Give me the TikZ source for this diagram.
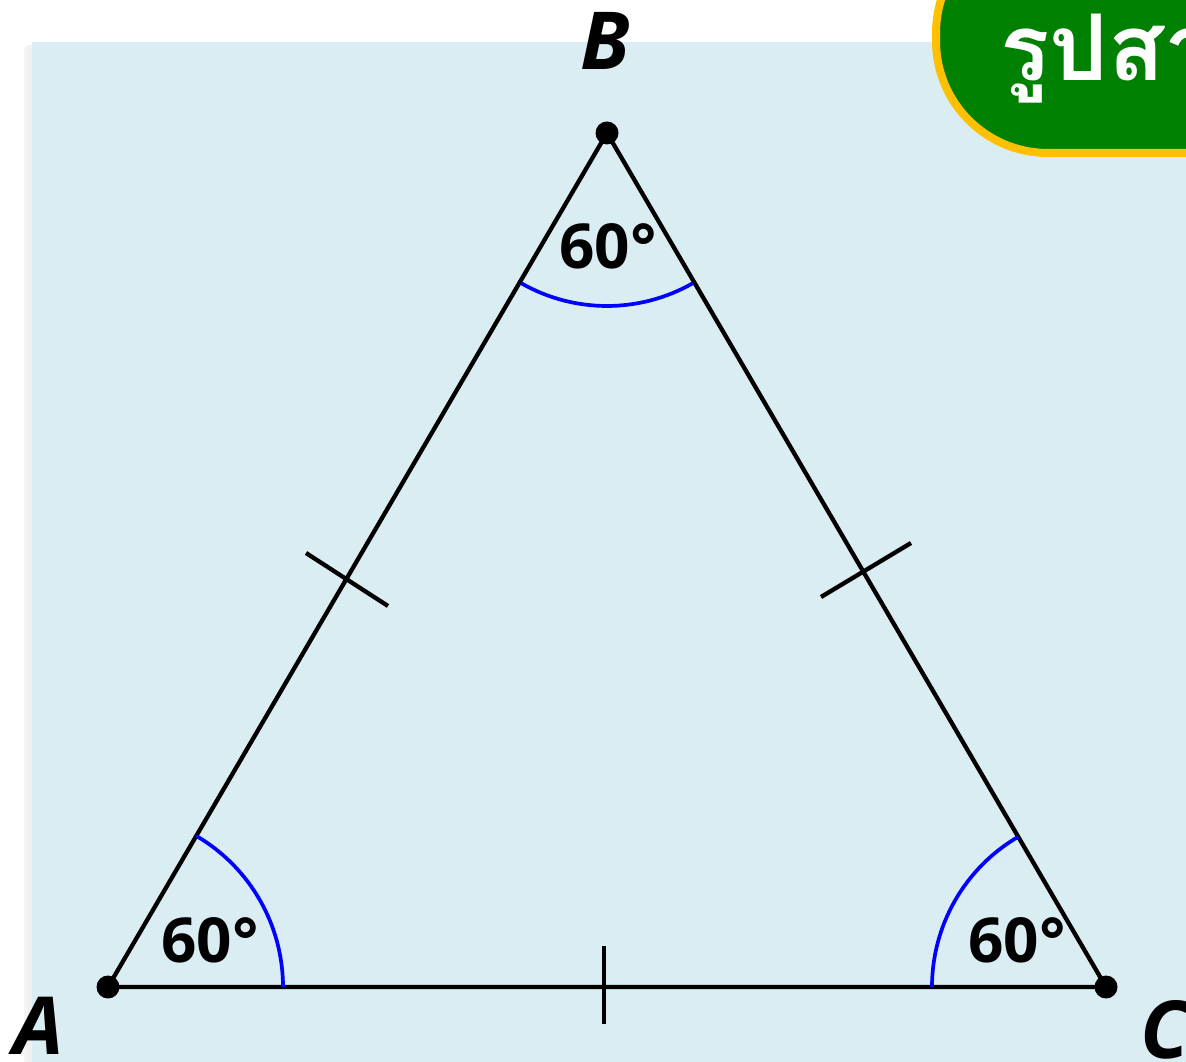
\documentclass[tikz,border=0pt]{standalone}
\usepackage{fontspec}
\setmainfont{Open Sans}
\newfontfamily\thaifont[Script=Thai]{Loma}
\definecolor{bgblue}{HTML}{DAEDF3}
\definecolor{badgegreen}{HTML}{008000}
\definecolor{badgeorange}{HTML}{FFC000}
\tikzset{
  dot/.style={circle,fill=black,inner sep=0pt,minimum size=23pt},
  side/.style={line width=4.3pt,black},
  anglearc/.style={line width=3.7pt,blue},
  tick/.style={line width=4.3pt,black},
  anglelabel/.style={font=\fontsize{62}{70}\selectfont\bfseries,inner sep=0pt},
  vlabel/.style={font=\fontsize{80}{90}\selectfont\bfseries\itshape,inner sep=0pt}
}
\begin{document}
\begin{tikzpicture}[x=1pt,y=1pt]
\useasboundingbox (0,0) rectangle (1186,1061);
\clip (0,0) rectangle (1186,1061);
% background panel with faint shadow
\fill[black,opacity=0.06] (27,-10) rectangle (32,1016);
\fill[black,opacity=0.04] (24,-10) rectangle (27,1014);
\fill[bgblue] (32,-10) rectangle (1200,1019);
% badge
\draw[line width=8pt,draw=badgeorange,fill=badgegreen,rounded corners=112pt]
  (936,908) rectangle (1400,1140);
\node[anchor=base west,inner sep=0pt,text=white,font=\thaifont\fontsize{92}{100}\selectfont\bfseries]
  (title) at (1000,980) {รูปสามเหลี่ยมด้านเท่า};
% vertices
\node[dot] (A) at (108,74) {};
\node[dot] (B) at (607,928) {};
\node[dot] (C) at (1106,74) {};
% sides
\draw[side] (A.center) -- (B.center) -- (C.center) -- (A.center);
% angle arcs
\draw[anglearc] (A.center) ++(175,0) arc[start angle=0,end angle=59.7,radius=175];
\draw[anglearc] (C.center) ++(-174,0) arc[start angle=180,end angle=120.3,radius=174];
\draw[anglearc] (B.center) ++(240.3:173) arc[start angle=240.3,end angle=299.7,radius=173];
% tick marks
\coordinate (t1a) at (306,508); \coordinate (t1b) at (388,455);
\coordinate (t2a) at (821,464); \coordinate (t2b) at (911,518);
\coordinate (t3a) at (604,115); \coordinate (t3b) at (604,37);
\draw[tick] (t1a) -- (t1b);
\draw[tick] (t2a) -- (t2b);
\draw[tick] (t3a) -- (t3b);
% angle labels
\node[anglelabel] (la) at (210,121) {60°};
\node[anglelabel] (lb) at (608,815) {60°};
\node[anglelabel] (lc) at (1017,121) {60°};
% vertex labels
\node[vlabel] (nA) at (39,35) {A};
\node[vlabel] (nB) at (605,1020) {B};
\node[vlabel] (nC) at (1165,31) {C};
\end{tikzpicture}
\end{document}
